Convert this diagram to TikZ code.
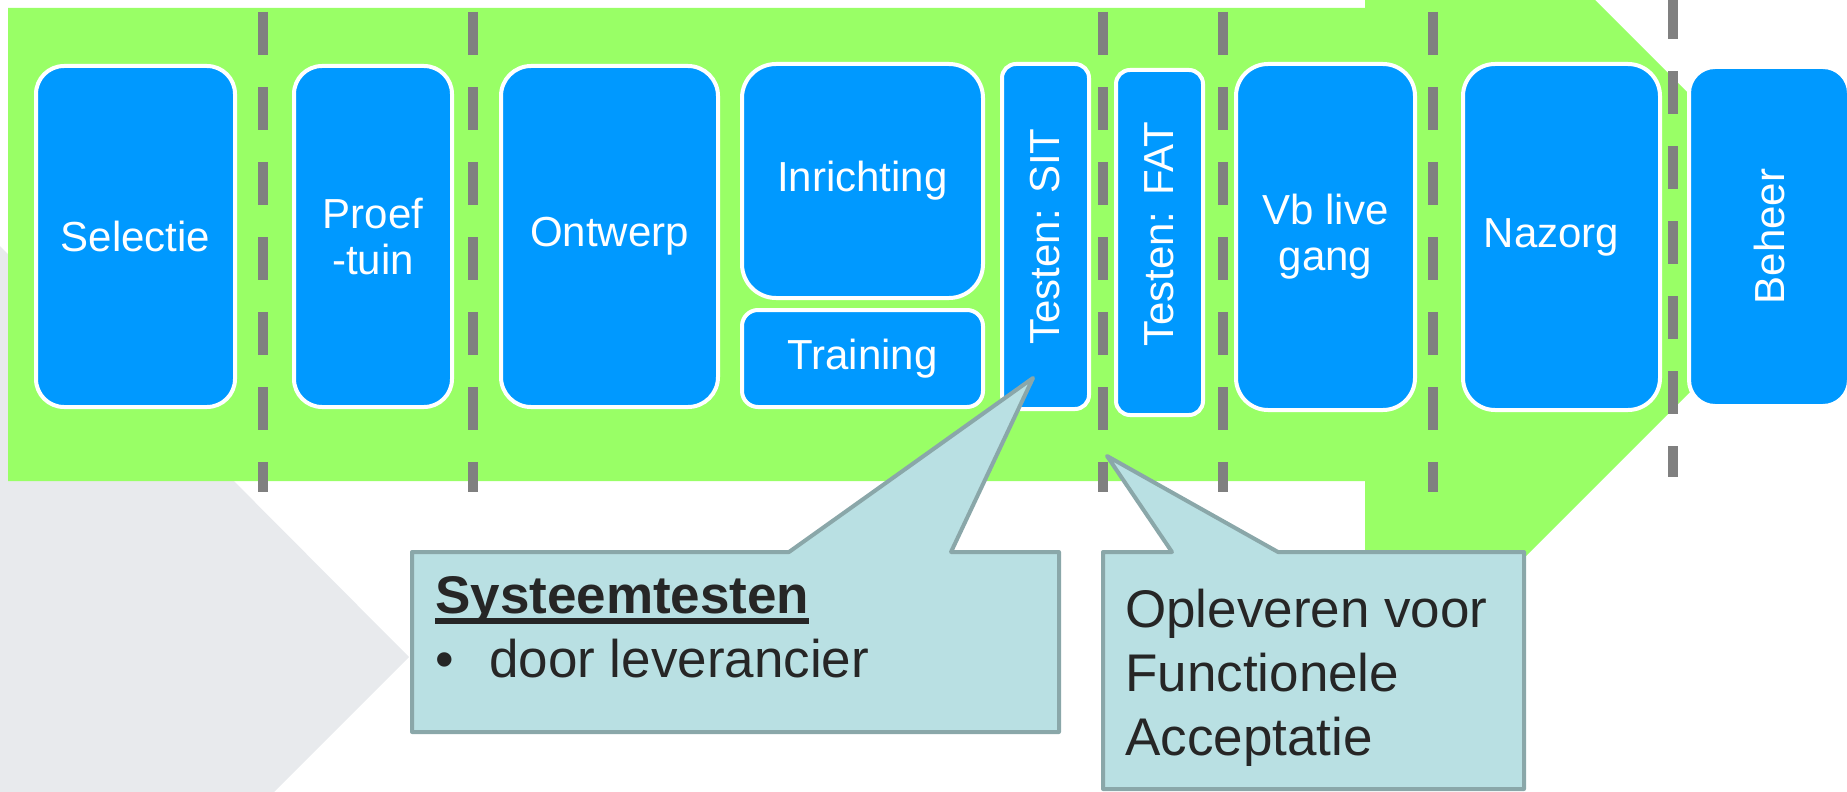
\documentclass[tikz,border=0pt]{standalone}
\usepackage{fontspec}
\setmainfont{Liberation Sans}

\definecolor{arrowgreen}{HTML}{99FF66}
\definecolor{phaseblue}{HTML}{0099FF}
\definecolor{gatecolor}{HTML}{808080}
\definecolor{notefill}{HTML}{B9E0E3}
\definecolor{noteline}{HTML}{8AA7A9}
\definecolor{shadegray}{HTML}{E8EAED}
\definecolor{notetext}{HTML}{262626}

\newsavebox\ulbox
\newcommand{\thickul}[1]{\sbox\ulbox{#1}\rlap{\rule[-11pt]{\wd\ulbox}{6pt}}\usebox\ulbox}

\begin{document}
\begin{tikzpicture}[
  x=1pt, y=-1pt,
  phase/.style={rectangle, draw=white, line width=4pt, fill=phaseblue, rounded corners=#1,
    text=white, align=center, inner sep=0pt, font=\fontsize{42}{46}\selectfont},
  phase/.default=28pt,
  gate/.style={gatecolor, line width=10pt, dash pattern=on 43pt off 32pt},
  note/.style={draw=noteline, fill=notefill, line width=4pt, line join=round},
  notetext/.style={text=notetext, inner sep=0pt, font=\fontsize{53}{64}\selectfont}
]
\useasboundingbox (0,0) rectangle (1847,792);
\clip (0,0) rectangle (1847,792);

% Background
\fill[shadegray] (0,246) -- (409,657) -- (274,792) -- (0,792) -- cycle;
\fill[arrowgreen] (8,8) -- (1365,8) -- (1365,-230) -- (1838.5,243.5)
  -- (1365,717) -- (1365,481) -- (8,481) -- cycle;

% Gates
\foreach \gx in {263,473,1103,1223,1433}
  \draw[gate] (\gx,12) -- (\gx,492);
\draw[gate] (1673,-4) -- (1673,477);

% Phases
\node[phase, minimum width=199pt, minimum height=341pt] (selectie) at (135.5,236.5) {Selectie};
\node[phase, minimum width=158pt, minimum height=341pt] (proeftuin) at (373,236.5) {Proef\\-tuin};
\node[phase=30pt, minimum width=217pt, minimum height=341pt] (ontwerp) at (609.5,236.5) {Ontwerp};
\node[phase=34pt, minimum width=241pt, minimum height=234pt] (inrichting) at (862.5,181) {Inrichting};
\node[phase=16pt, minimum width=241pt, minimum height=97pt] (training) at (862.5,358.5) {Training};
\node[phase=14pt, rotate=90, minimum width=345pt, minimum height=87pt] (sit) at (1045.5,236.5) {Testen: SIT};
\node[phase=14pt, rotate=90, minimum width=345pt, minimum height=87pt] (fat) at (1159.5,242.5) {\hspace{16pt}Testen: FAT};
\node[phase=32pt, minimum width=179pt, minimum height=346pt] (vblive) at (1325.5,237) {Vb live\\gang};
\node[phase=32pt, minimum width=197pt, minimum height=346pt] (nazorg) at (1561.5,237) {Nazorg\hspace{20pt}};
\node[phase=26pt, rotate=90, minimum width=339pt, minimum height=160pt] (beheer) at (1769,236.5) {Beheer};

% Callouts
\coordinate (sittip) at (1033,378);
\coordinate (fattip) at (1107,456);
\draw[note] (412,552) -- (789,552) -- (sittip) -- (951,552) -- (1059,552)
  -- (1059,732) -- (412,732) -- cycle;
\draw[note] (1103,552) -- (1172,552) -- (fattip) -- (1278,552) -- (1524,552)
  -- (1524,789) -- (1103,789) -- cycle;

\node[notetext, anchor=base west] (systitle) at (435,613) {\thickul{\textbf{Systeemtesten}}};
\node[notetext, anchor=base west] (sysitem) at (435,677) {\makebox[54pt][l]{•}door leverancier};
\node[notetext, anchor=north west, align=left] (fatnote) at (1125,589) {Opleveren voor\\Functionele\\Acceptatie};
\end{tikzpicture}
\end{document}
